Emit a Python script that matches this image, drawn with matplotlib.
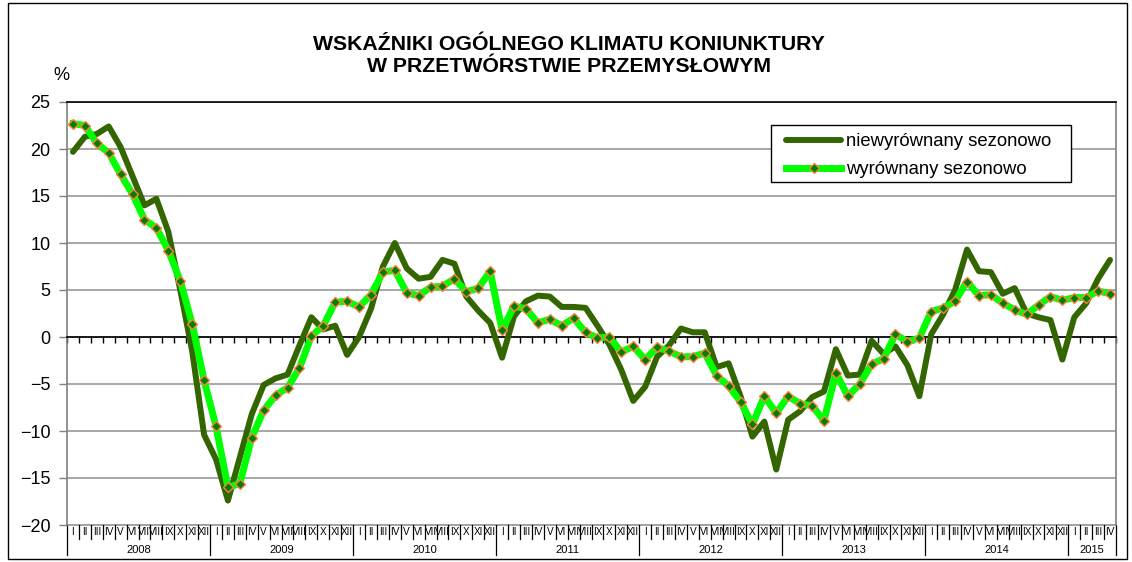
import matplotlib.pyplot as plt
from matplotlib.patches import Rectangle

# miesiące i lata na osi X
months = ["I", "II", "III", "IV", "V", "VI", "VII", "VIII", "IX", "X", "XI", "XII"]
years = ["2008", "2009", "2010", "2011", "2012", "2013", "2014", "2015"]

# niewyrównany sezonowo (I 2008 - IV 2015)
unadjusted = [
    19.7, 21.3, 21.6, 22.4, 20.2, 17.1, 14.0, 14.7, 11.2, 5.0, -1.5, -10.4,
    -13.0, -17.4, -12.8, -8.2, -5.1, -4.4, -4.0, -0.9, 2.1, 0.8, 1.2, -1.9,
    0.0, 3.0, 7.5, 10.0, 7.3, 6.2, 6.4, 8.2, 7.8, 4.3, 2.8, 1.5,
    -2.2, 2.2, 3.8, 4.4, 4.3, 3.2, 3.2, 3.1, 1.2, -0.8, -3.5, -6.8,
    -5.3, -2.1, -0.9, 0.9, 0.5, 0.5, -3.2, -2.8, -6.3, -10.6, -9.0, -14.1,
    -8.8, -7.9, -6.4, -5.8, -1.3, -4.1, -4.0, -0.4, -1.8, -1.0, -3.0, -6.3,
    0.3, 2.4, 5.0, 9.3, 7.0, 6.9, 4.6, 5.2, 2.5, 2.1, 1.8, -2.4,
    2.1, 3.6, 6.2, 8.2,
]

# wyrównany sezonowo
adjusted = [
    22.7, 22.5, 20.6, 19.6, 17.3, 15.2, 12.5, 11.6, 9.2, 6.0, 1.4, -4.6,
    -9.5, -16.0, -15.6, -10.7, -7.8, -6.2, -5.4, -3.3, 0.1, 1.2, 3.7, 3.8,
    3.2, 4.5, 6.9, 7.1, 4.7, 4.4, 5.3, 5.4, 6.2, 4.8, 5.2, 7.0,
    0.7, 3.3, 3.0, 1.5, 1.9, 1.2, 2.0, 0.5, -0.1, 0.0, -1.6, -1.0,
    -2.4, -1.1, -1.5, -2.1, -2.1, -1.7, -4.1, -5.2, -6.9, -9.3, -6.3, -8.1,
    -6.3, -7.1, -7.3, -8.9, -3.8, -6.3, -5.0, -2.9, -2.3, 0.3, -0.5, -0.1,
    2.7, 3.1, 3.8, 5.9, 4.4, 4.5, 3.6, 2.9, 2.4, 3.4, 4.3, 3.9,
    4.2, 4.2, 4.9, 4.6,
]

plt.rcParams['font.family'] = ['Liberation Sans', 'DejaVu Sans']

W, H = 1132, 562
fig = plt.figure(figsize=(W / 100, H / 100), dpi=100)
ax = fig.add_axes([67 / W, 1 - 525 / H, (1116 - 67) / W, (525 - 102) / H])

n = len(adjusted)
x = [i + 0.5 for i in range(n)]

ax.plot(x, unadjusted, color='#336600', lw=4.3, solid_joinstyle='round',
        solid_capstyle='round', label='niewyrównany sezonowo', zorder=3)
ax.plot(x, adjusted, color='#00FF00', lw=5, marker='D', ms=5.5,
        mfc='#008000', mec='#FF7F3F', mew=1.0,
        label='wyrównany sezonowo', zorder=4)

ax.set_xlim(0, n)
ax.set_ylim(-20, 25)
ax.set_yticks(range(-20, 26, 5))
ax.yaxis.grid(True, color='#a0a0a0', lw=1.3)
ax.set_axisbelow(True)
ax.axhline(-20, color='#a0a0a0', lw=1.3, clip_on=False, zorder=1)

# oś X przecina w zerze
ax.spines['bottom'].set_position(('data', 0))
ax.spines['bottom'].set_color('black')
ax.spines['top'].set_color('black')
ax.spines['left'].set_color('#808080')
ax.spines['right'].set_color('#808080')
for s in ax.spines.values():
    s.set_linewidth(1.2)
ax.set_xticks(range(n + 1))
ax.set_xticklabels([])
ax.tick_params(axis='x', direction='out', length=4, width=1, color='black')
ax.tick_params(axis='y', direction='out', length=6, width=1, color='#808080',
               labelsize=13, pad=6)

# etykiety miesięcy i lat pod wykresem
trans = ax.get_xaxis_transform()
for i in range(n):
    ax.text(i + 0.5, -0.017, months[i % 12], transform=trans, ha='center',
            va='center', fontsize=7.2)
for i in range(n + 1):
    low = -0.071 if (i % 12 == 0 or i == n) else -0.033
    ax.plot([i, i], [0, low], transform=trans, color='black', lw=0.9,
            clip_on=False)
for k, yr in enumerate(years):
    start = k * 12
    end = min(start + 12, n)
    ax.text((start + end) / 2, -0.058, yr, transform=trans, ha='center',
            va='center', fontsize=8)

fig.text(569 / W, 1 - 45 / H, "WSKAŹNIKI OGÓLNEGO KLIMATU KONIUNKTURY",
         ha='center', va='center', fontsize=15.3, fontweight='bold')
fig.text(569 / W, 1 - 67 / H, "W PRZETWÓRSTWIE PRZEMYSŁOWYM",
         ha='center', va='center', fontsize=15.3, fontweight='bold')
fig.text(61 / W, 1 - 75 / H, "%", ha='center', va='center', fontsize=13)

# ramka legendy rysowana osobno, legenda bez ramki
fig.patches.append(Rectangle((771 / W, 1 - 182 / H), 300 / W, 57 / H,
                             transform=fig.transFigure, facecolor='white',
                             edgecolor='black', lw=1))
leg = fig.legend(loc='upper left', bbox_to_anchor=(786 / W, 1 - 133 / H),
                 fontsize=13.3, frameon=False, handlelength=3.0,
                 handletextpad=0.25, borderpad=0, labelspacing=0.6,
                 borderaxespad=0)

fig.patches.append(Rectangle((8 / W, 3 / H), (1127 - 8) / W, (559 - 3) / H,
                             transform=fig.transFigure, fill=False,
                             edgecolor='black', lw=1))

fig.savefig('out.png', dpi=100)
